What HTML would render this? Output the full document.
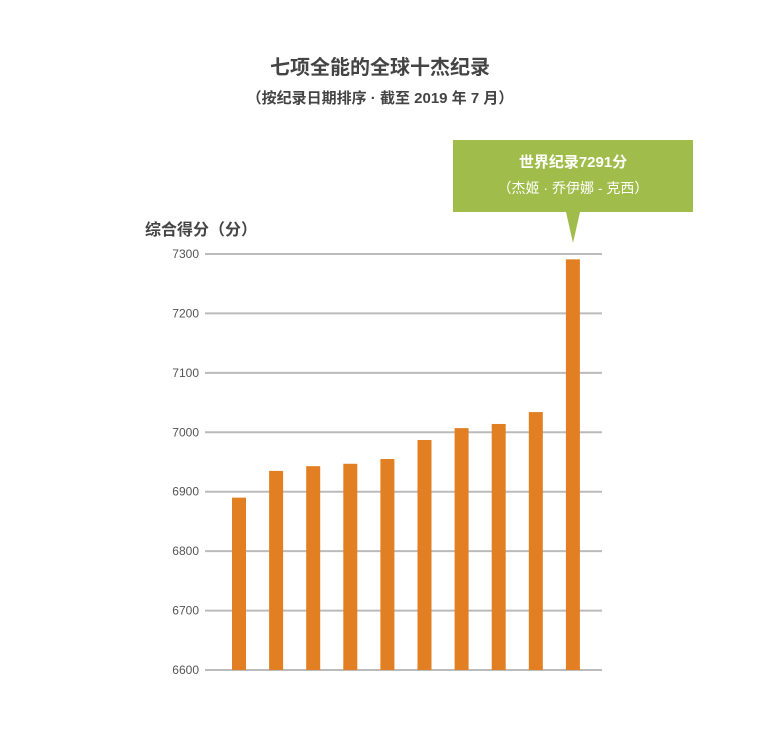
<!DOCTYPE html>
<html><head><meta charset="utf-8"><style>
body{margin:0;background:#fff;}
svg{display:block;font-family:"Liberation Sans","Noto Sans CJK SC",sans-serif;}
</style></head><body>
<svg id="chart" width="760" height="741" viewBox="0 0 760 741">
<text x="380" y="74" text-anchor="middle" font-size="20" font-weight="bold" fill="#444">七项全能的全球十杰纪录</text>
<text x="380" y="103" text-anchor="middle" font-size="15" font-weight="bold" fill="#444">（按纪录日期排序 · 截至 2019 年 7 月）</text>
<text x="145" y="235" font-size="16" font-weight="bold" fill="#444">综合得分（分）</text>
<g id="grid"></g>
<g id="bars"></g>
<g>
<rect x="453" y="140" width="240" height="72" fill="#a0bd4b"/>
<polygon points="566,212 580,212 573,243" fill="#a0bd4b"/>
<text x="573" y="167" text-anchor="middle" font-size="15" font-weight="bold" fill="#fff">世界纪录7291分</text>
<text x="573" y="193" text-anchor="middle" font-size="14" fill="#fff">（杰姬 · 乔伊娜 - 克西）</text>
</g>
</svg>
<script>
const values=[6890,6935,6943,6947,6955,6987,7007,7014,7034,7291];
const ticks=[6600,6700,6800,6900,7000,7100,7200,7300];
const y0=670,y1=254,vmin=6600,vmax=7300;
const y=v=>y0-(v-vmin)/(vmax-vmin)*(y0-y1);
const x=i=>232+i*37.1;
const NS="http://www.w3.org/2000/svg";
const grid=document.getElementById('grid'),bars=document.getElementById('bars');
ticks.forEach(t=>{
 const l=document.createElementNS(NS,'line');
 l.setAttribute('x1',205);l.setAttribute('x2',602);l.setAttribute('y1',y(t));l.setAttribute('y2',y(t));
 l.setAttribute('stroke','#bbb');l.setAttribute('stroke-width','2');
 
 
 grid.appendChild(l);
 const tx=document.createElementNS(NS,'text');
 tx.setAttribute('x',199);tx.setAttribute('y',y(t)+4);tx.setAttribute('text-anchor','end');
 tx.setAttribute('font-size','12');tx.setAttribute('fill','#555');tx.textContent=t;
 
 
 grid.appendChild(tx);
});
values.forEach((v,i)=>{
 const r=document.createElementNS(NS,'rect');
 r.setAttribute('x',x(i));r.setAttribute('width',14);r.setAttribute('y',y(v));r.setAttribute('height',y0-y(v));
 r.setAttribute('fill','#e27f22');
 
 
 bars.appendChild(r);
});
</script>
</body></html>
